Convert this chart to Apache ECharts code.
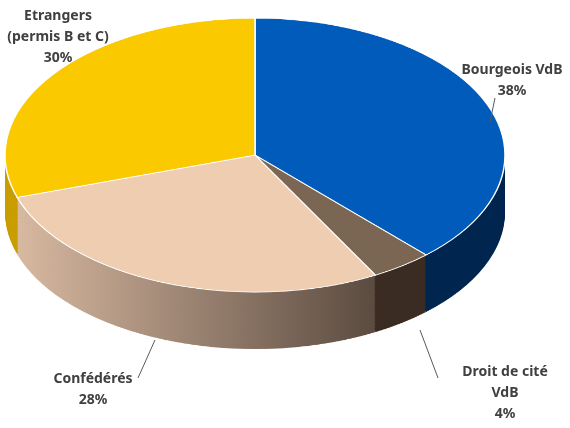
<!DOCTYPE html>
<html><head><meta charset="utf-8">
<script src="https://cdn.jsdelivr.net/npm/echarts@6/dist/echarts.min.js"></script>
<style>html,body{margin:0;background:#fff;overflow:hidden}
#pie{position:absolute;left:0;top:0;width:570px;height:782px;transform:scaleY(0.548);transform-origin:0 0}
#lab{position:absolute;left:0;top:0;width:570px;height:428px}</style>
</head><body><div id="pie"></div><div id="lab"></div>
<script>
const categories = ['Bourgeois VdB','Droit de cité VdB','Confédérés','Etrangers (permis B et C)'];
const values = [38, 4, 28, 30];
const labelTexts = ['Bourgeois VdB\n38%','Droit de cité\nVdB\n4%','Confédérés\n28%','Etrangers\n(permis B et C)\n30%'];
const topColors = ['#005bbb','#7a6652','#efcdb0','#fbc900'];
const sideColors = [
  '#00264f','#3a2c22',
  {type:'linear',x:0,y:0,x2:1,y2:0,colorStops:[{offset:0,color:'#d8b9a1'},{offset:1,color:'#5b4b40'}]},
  '#c99e00'];
const chart = echarts.init(document.getElementById('pie'));
const cx=255, cy=283, R=250, depth=104, layers=40;
const series=[];
function mk(y,colors,border){
  return {type:'pie',center:[cx,y],radius:R,startAngle:90,clockwise:true,silent:true,animation:false,
    label:{show:false},labelLine:{show:false},
    itemStyle:{borderColor:border?'#fff':'transparent',borderWidth:border?1.5:0},
    data:categories.map((c,i)=>({name:c,value:values[i],itemStyle:{color:colors[i]}}))};
}
for(let k=layers;k>=1;k--) series.push(mk(cy+depth*k/layers,sideColors,false));
series.push(mk(cy,topColors,true));
chart.setOption({series});

const lab = echarts.init(document.getElementById('lab'));
const pos=[[512,60],[505,362],[93,369],[58,6]];
const lines=[[[495,98],[490,122]],[[438,378],[420,330]],[[138,378],[155,340]],null];
const g=[];
labelTexts.forEach((t,i)=>{
  g.push({type:'text',x:pos[i][0],y:pos[i][1],style:{text:t,fill:'#404040',font:'bold 14px "Noto Sans"',align:'center',verticalAlign:'top',lineHeight:21}});
  if(lines[i]) g.push({type:'polyline',shape:{points:lines[i]},style:{stroke:'#595959',lineWidth:1}});
});
lab.setOption({graphic:g});
</script></body></html>
